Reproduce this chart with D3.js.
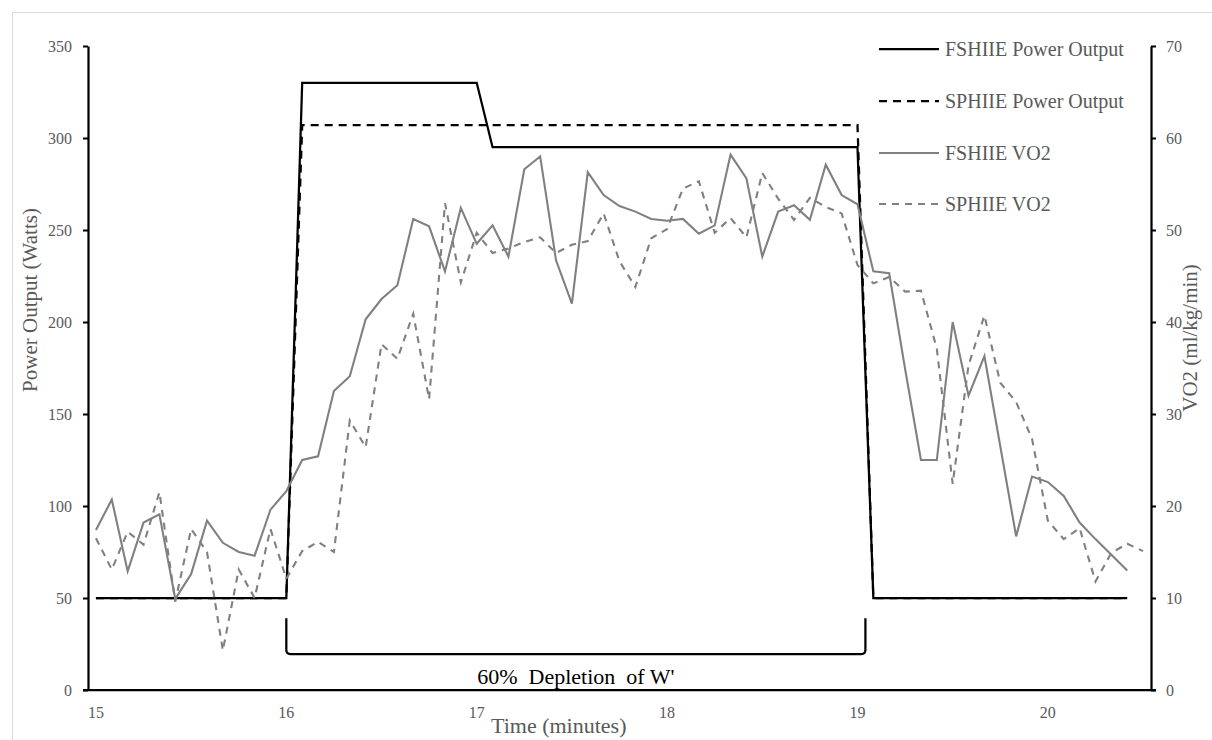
<!DOCTYPE html>
<html>
<head>
<meta charset="utf-8">
<script src="https://cdn.jsdelivr.net/npm/d3@7"></script>
<style>
  html, body { margin: 0; padding: 0; background: #fff; }
  svg { display: block; font-family: "Liberation Serif", "Times New Roman", serif; }
</style>
</head>
<body>
<svg id="chart" width="1212" height="740"></svg>
<script>
// ---------- DATA ----------
const categories = [
  "15:00","15:05","15:10","15:15","15:20","15:25","15:30","15:35","15:40","15:45","15:50","15:55",
  "16:00","16:05","16:10","16:15","16:20","16:25","16:30","16:35","16:40","16:45","16:50","16:55",
  "17:00","17:05","17:10","17:15","17:20","17:25","17:30","17:35","17:40","17:45","17:50","17:55",
  "18:00","18:05","18:10","18:15","18:20","18:25","18:30","18:35","18:40","18:45","18:50","18:55",
  "19:00","19:05","19:10","19:15","19:20","19:25","19:30","19:35","19:40","19:45","19:50","19:55",
  "20:00","20:05","20:10","20:15","20:20","20:25","20:30"
];
const tickCategories = ["15:00","16:00","17:00","18:00","19:00","20:00"];
const tickLabels = ["15","16","17","18","19","20"];
const leftTicks = [0,50,100,150,200,250,300,350];
const rightTicks = [0,10,20,30,40,50,60,70];

const fshiiePower = [
  50,50,50,50,50,50,50,50,50,50,50,50,
  50,330,330,330,330,330,330,330,330,330,330,330,
  330,295,295,295,295,295,295,295,295,295,295,295,
  295,295,295,295,295,295,295,295,295,295,295,295,
  295,50,50,50,50,50,50,50,50,50,50,50,
  50,50,50,50,50,50,null
];
const sphiiePower = [
  50,50,50,50,50,50,50,50,50,50,50,50,
  50,307,307,307,307,307,307,307,307,307,307,307,
  307,307,307,307,307,307,307,307,307,307,307,307,
  307,307,307,307,307,307,307,307,307,307,307,307,
  307,50,50,50,50,50,50,50,50,50,50,50,
  50,50,50,50,50,50,null
];
const fshiieVO2 = [
  17.4,20.7,12.9,18.2,19.1,9.9,12.6,18.4,16.0,15.0,14.6,19.6,
  21.6,25.0,25.4,32.5,34.1,40.3,42.5,44.0,51.2,50.4,45.5,52.4,
  48.5,50.5,47.1,56.6,58.0,46.7,42.0,56.3,53.8,52.6,52.0,51.2,
  51.0,51.2,49.6,50.5,58.2,55.6,47.1,52.0,52.7,51.1,57.1,53.8,
  52.8,45.5,45.3,34.9,25.0,25.0,40.0,32.0,36.3,26.5,16.7,23.2,
  22.6,21.1,18.2,16.4,14.7,13.0,null
];
const sphiieVO2 = [
  16.5,13.1,17.2,15.8,21.5,9.6,17.5,15.0,4.3,13.1,10.0,17.5,
  12.1,15.1,16.1,15.0,29.3,26.4,37.6,36.0,40.9,31.6,52.9,44.3,
  49.7,47.5,48.0,48.7,49.2,47.5,48.4,48.8,51.8,46.6,43.8,49.1,
  50.1,54.5,55.3,49.7,51.3,49.2,56.2,53.4,51.1,53.5,52.5,51.8,
  46.2,44.2,44.9,43.3,43.4,37.1,22.4,35.3,40.7,33.4,31.3,27.3,
  18.4,16.4,17.6,11.8,14.9,15.9,15.1
];
const seriesNames = ["FSHIIE Power Output","SPHIIE Power Output","FSHIIE VO2","SPHIIE VO2"];

// ---------- LAYOUT ----------
const svg = d3.select("#chart");
const plot = { left: 88, right: 1151, top: 46, bottom: 690 };
const textGray = "#595959";
const lineGray = "#808080";

// chart area border (partially visible)
svg.append("line").attr("x1",12.5).attr("y1",12.5).attr("x2",1212).attr("y2",12.5)
  .attr("stroke","#d9d9d9").attr("stroke-width",1);
svg.append("line").attr("x1",12.5).attr("y1",12.5).attr("x2",12.5).attr("y2",740)
  .attr("stroke","#d9d9d9").attr("stroke-width",1);

const x = d3.scaleBand().domain(categories).range([plot.left, plot.right]).padding(0);
const xc = c => x(c) + x.bandwidth() / 2;
const yL = d3.scaleLinear().domain([0,350]).range([plot.bottom, plot.top]);
const yR = d3.scaleLinear().domain([0,70]).range([plot.bottom, plot.top]);

// ---------- AXES ----------
const gLeft = svg.append("g").attr("transform", `translate(${plot.left},0)`)
  .call(d3.axisLeft(yL).tickValues(leftTicks).tickSize(5).tickSizeOuter(0).tickPadding(11));
const gRight = svg.append("g").attr("transform", `translate(${plot.right},0)`)
  .call(d3.axisRight(yR).tickValues(rightTicks).tickSize(5).tickSizeOuter(0).tickPadding(10));
const gBottom = svg.append("g").attr("transform", `translate(0,${plot.bottom})`)
  .call(d3.axisBottom(x).tickValues(tickCategories)
    .tickFormat((d,i) => tickLabels[tickCategories.indexOf(d)])
    .tickSize(0).tickSizeOuter(0).tickPadding(17));

[gLeft, gRight, gBottom].forEach(g => {
  g.select(".domain").attr("stroke","#000").attr("stroke-width",2.25);
  g.selectAll(".tick line").attr("stroke","#000").attr("stroke-width",2);
  g.selectAll(".tick text").attr("fill", textGray)
    .style("font-family","'Liberation Serif', serif").style("font-size","16px");
});
gBottom.select(".domain").attr("d", `M${plot.left - 5},0H${plot.right + 5}`);

// ---------- LINES ----------
const lineL = d3.line().defined(d => d.v != null).x(d => xc(d.c)).y(d => yL(d.v));
const lineR = d3.line().defined(d => d.v != null).x(d => xc(d.c)).y(d => yR(d.v));
const pack = arr => categories.map((c,i) => ({c, v: arr[i]}));

svg.append("path").datum(pack(fshiiePower)).attr("d", lineL)
  .attr("fill","none").attr("stroke","#000").attr("stroke-width",2.25);
svg.append("path").datum(pack(sphiiePower)).attr("d", lineL)
  .attr("fill","none").attr("stroke","#000").attr("stroke-width",2.25)
  .attr("stroke-dasharray","8,6");
svg.append("path").datum(pack(fshiieVO2)).attr("d", lineR)
  .attr("fill","none").attr("stroke",lineGray).attr("stroke-width",2.1);
svg.append("path").datum(pack(sphiieVO2)).attr("d", lineR)
  .attr("fill","none").attr("stroke",lineGray).attr("stroke-width",2.1)
  .attr("stroke-dasharray","7,6");

// ---------- BRACKET ANNOTATION ----------
const bx1 = xc("16:00");
const bx2 = xc("19:00") + x.step() * 0.5;
const by1 = yL(39), by2 = yL(19.5);
svg.append("path")
  .attr("d", `M${bx1},${by1}V${by2 - 4}Q${bx1},${by2} ${bx1 + 4},${by2}H${bx2 - 4}Q${bx2},${by2} ${bx2},${by2 - 4}V${by1}`)
  .attr("fill","none").attr("stroke","#000").attr("stroke-width",2.25);
svg.append("text").attr("x", (bx1 + bx2) / 2).attr("y", 684)
  .attr("text-anchor","middle").attr("fill","#000")
  .style("font-size","22px").style("white-space","pre")
  .text("60%  Depletion  of W'");

// ---------- AXIS TITLES ----------
svg.append("text").attr("transform", "translate(37,300) rotate(-90)")
  .attr("text-anchor","middle").attr("fill",textGray).style("font-size","21px")
  .text("Power Output (Watts)");
svg.append("text").attr("transform", "translate(1197,338) rotate(-90)")
  .attr("text-anchor","middle").attr("fill",textGray).style("font-size","21px")
  .text("VO2 (ml/kg/min)");
svg.append("text").attr("x", 491).attr("y", 733)
  .attr("fill",textGray).style("font-size","22px")
  .text("Time (minutes)");

// ---------- LEGEND ----------
const legendStyles = [
  {stroke:"#000", dash:null, w:2.25},
  {stroke:"#000", dash:"8,6", w:2.25},
  {stroke:lineGray, dash:null, w:2.1},
  {stroke:lineGray, dash:"7,6", w:2.1}
];
const legendY = [49, 101, 153, 204];
const lg = svg.append("g").selectAll("g").data(seriesNames).join("g")
  .attr("transform", (d,i) => `translate(0,${legendY[i]})`);
lg.append("line").attr("x1",879).attr("x2",939).attr("y1",0).attr("y2",0)
  .attr("stroke",(d,i)=>legendStyles[i].stroke)
  .attr("stroke-width",(d,i)=>legendStyles[i].w)
  .attr("stroke-dasharray",(d,i)=>legendStyles[i].dash);
lg.append("text").attr("x",945).attr("y",7)
  .attr("fill",textGray).style("font-size","20px").text(d => d);
</script>
</body>
</html>
